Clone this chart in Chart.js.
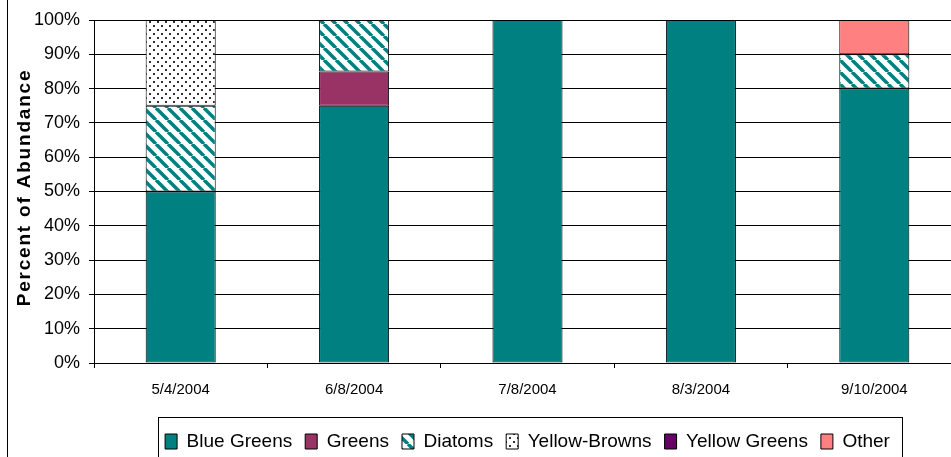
<!DOCTYPE html>
<html>
<head>
<meta charset="utf-8">
<script src="https://cdn.jsdelivr.net/npm/chart.js@4.4.0/dist/chart.umd.min.js"></script>
<style>
    html, body { margin: 0; padding: 0; background: #fff; overflow: hidden; }
    #wrap { position: absolute; left: 0; top: 0; width: 961px; height: 475px; }
</style>
</head>
<body>
<div id="wrap"><canvas id="abundanceChart" width="961" height="475"></canvas></div>
<script>
// Dữ liệu
const sampleDates  = ['5/4/2004', '6/8/2004', '7/8/2004', '8/3/2004', '9/10/2004'];
const blueGreens   = [50, 75, 100, 100, 80];
const greens       = [0, 10, 0, 0, 0];
const diatoms      = [25, 15, 0, 0, 10];
const yellowBrowns = [25, 0, 0, 0, 0];
const yellowGreens = [0, 0, 0, 0, 0];
const other        = [0, 0, 0, 0, 10];
const yAxisTitle   = 'Percent of Abundance';

const FONT = "'Liberation Sans', Arial, sans-serif";

function stripePattern() {
    const c = document.createElement('canvas');
    c.width = c.height = 12;
    const g = c.getContext('2d');
    g.fillStyle = '#fff';
    g.fillRect(0, 0, 12, 12);
    g.strokeStyle = '#008080';
    g.lineWidth = 3.5;
    for (let k = -1; k <= 1; k++) {
        g.beginPath();
        g.moveTo(k * 12, 0);
        g.lineTo(k * 12 + 12, 12);
        g.stroke();
    }
    return g.createPattern(c, 'repeat');
}

function dotPattern() {
    const c = document.createElement('canvas');
    c.width = c.height = 8;
    const g = c.getContext('2d');
    g.fillStyle = '#fff';
    g.fillRect(0, 0, 8, 8);
    g.fillStyle = '#333';
    g.fillRect(1, 1, 2, 2);
    g.fillRect(5, 5, 2, 2);
    return g.createPattern(c, 'repeat');
}

function series(label, data, fill) {
    return {
        label: label,
        data: data,
        backgroundColor: fill,
        borderColor: '#000',
        borderWidth: 1,
        borderSkipped: false,
        barPercentage: 0.404,
        categoryPercentage: 1
    };
}

// Vẽ tiêu đề trục Y, khung bên trái và viền chú giải
const extrasPlugin = {
    id: 'extras',
    afterDraw(chart) {
        const ctx = chart.ctx;
        const area = chart.chartArea;
        ctx.save();
        ctx.strokeStyle = '#000';
        ctx.lineWidth = 1;
        ctx.beginPath();
        ctx.moveTo(7.5, 0);
        ctx.lineTo(7.5, chart.height);
        ctx.stroke();

        const boxes = chart.legend.legendHitBoxes;
        if (boxes && boxes.length) {
            const left = Math.min(...boxes.map(b => b.left)) - 7;
            const right = Math.max(...boxes.map(b => b.left + b.width)) + 12;
            const midY = boxes[0].top + boxes[0].height / 2;
            ctx.strokeRect(Math.round(left) + 0.5, Math.round(midY - 25) + 0.5, Math.round(right - left), 60);
        }

        ctx.translate(25, (area.top + area.bottom) / 2 - 4);
        ctx.rotate(-Math.PI / 2);
        ctx.font = 'bold 19px ' + FONT;
        if ('letterSpacing' in ctx) ctx.letterSpacing = '1.8px';
        ctx.textAlign = 'center';
        ctx.textBaseline = 'middle';
        ctx.fillStyle = '#000';
        ctx.fillText(yAxisTitle, 0, 0);
        ctx.restore();
    }
};

new Chart(document.getElementById('abundanceChart').getContext('2d'), {
    type: 'bar',
    data: {
        labels: sampleDates,
        datasets: [
            series('Blue Greens', blueGreens, '#008080'),
            series('Greens', greens, '#993366'),
            series('Diatoms', diatoms, stripePattern()),
            series('Yellow-Browns', yellowBrowns, dotPattern()),
            series('Yellow Greens', yellowGreens, '#660066'),
            series('Other', other, '#FF8080')
        ]
    },
    options: {
        responsive: false,
        animation: false,
        layout: { padding: { top: 20, right: 0, left: 0, bottom: 14 } },
        plugins: {
            legend: {
                position: 'bottom',
                fullSize: false,
                labels: {
                    font: { family: FONT, size: 19 },
                    color: '#000',
                    boxWidth: 12,
                    boxHeight: 15,
                    padding: 13
                }
            },
            tooltip: { enabled: false }
        },
        scales: {
            x: {
                stacked: true,
                grid: { display: true, drawOnChartArea: false, tickLength: 5, color: '#000', offset: true },
                border: { display: true, color: '#000' },
                ticks: { font: { family: FONT, size: 15 }, color: '#000', padding: 13, maxRotation: 0 },
                afterFit: function (scale) { scale.height = 56; }
            },
            y: {
                stacked: true,
                min: 0,
                max: 100,
                ticks: {
                    stepSize: 10,
                    font: { family: FONT, size: 18 },
                    color: '#000',
                    padding: 9,
                    callback: function (value) { return value + '%'; }
                },
                grid: { color: '#000', tickLength: 5 },
                border: { color: '#000' },
                afterFit: function (scale) { scale.width = 94; }
            }
        }
    },
    plugins: [extrasPlugin]
});
</script>
</body>
</html>
